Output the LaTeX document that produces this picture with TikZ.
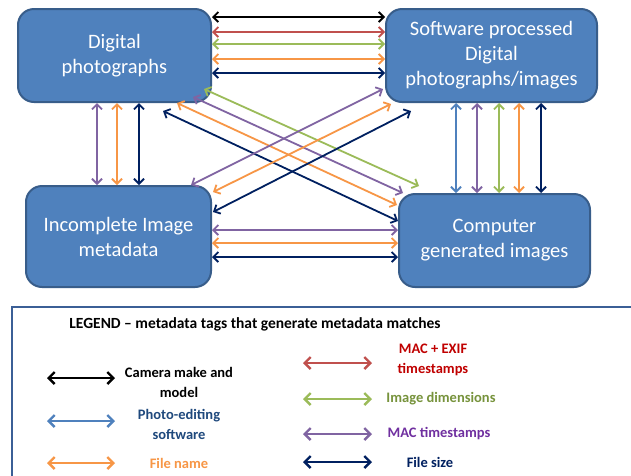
\documentclass[tikz,border=0pt]{standalone}
\usepackage{fontspec}
\setmainfont{Carlito}
\usetikzlibrary{arrows.meta,calc}
\definecolor{boxfill}{HTML}{4F81BD}
\definecolor{boxedge}{HTML}{385D8A}
\definecolor{cred}{HTML}{C0504D}
\definecolor{cgreen}{HTML}{9BBB59}
\definecolor{corange}{HTML}{F79646}
\definecolor{cnavy}{HTML}{002060}
\definecolor{cpurple}{HTML}{8064A2}
\definecolor{cblue}{HTML}{4F81BD}
\definecolor{legedge}{HTML}{3B5F96}
\definecolor{tred}{HTML}{C00000}
\definecolor{tgreen}{HTML}{77933C}
\definecolor{tpurple}{HTML}{7030A0}
\definecolor{tblue}{HTML}{1F497D}
\begin{document}
\begin{tikzpicture}[x=1pt,y=-1pt,
  box/.style={draw=boxedge, line width=2pt, fill=boxfill, rounded corners=16pt,
    text=white, align=center, font=\fontsize{20.5}{25}\selectfont, inner sep=0pt},
  arr/.style={{Straight Barb[length=5pt,width=10pt]}-{Straight Barb[length=5pt,width=10pt]}, line width=1.8pt},
  larr/.style={{Straight Barb[length=6pt,width=12pt]}-{Straight Barb[length=6pt,width=12pt]}, line width=2.4pt},
  legtxt/.style={font=\fontsize{14.5}{20}\selectfont\bfseries, align=center, inner sep=0pt}]
\useasboundingbox (0,0) rectangle (631,475);
\fill[white] (0,0) rectangle (631,475);

% boxes
\node[box, minimum width=193pt, minimum height=93pt] (dp) at (114.5,55.5) {Digital\\photographs};
\node[box, minimum width=211pt, minimum height=93pt] (sp) at (491.5,55.5) {Software processed\\Digital\\photographs/images};
\node[box, minimum width=185pt, minimum height=101pt] (im) at (118.5,236.5) {Incomplete Image\\metadata};
\node[box, minimum width=191pt, minimum height=93pt] (cg) at (494.5,240.5) {Computer\\generated images};

% DP - SP horizontal
\draw[arr,black]   (dp.east |- 0,17) -- (sp.west |- 0,17);
\draw[arr,cred]    (dp.east |- 0,32) -- (sp.west |- 0,32);
\draw[arr,cgreen]  (dp.east |- 0,44) -- (sp.west |- 0,44);
\draw[arr,corange] (dp.east |- 0,59) -- (sp.west |- 0,59);
\draw[arr,cnavy]   (dp.east |- 0,73) -- (sp.west |- 0,73);

% DP - IM vertical
\draw[arr,cpurple] (dp.south -| 97,0)  -- (im.north -| 97,0);
\draw[arr,corange] (dp.south -| 117,0) -- (im.north -| 117,0);
\draw[arr,cnavy]   (dp.south -| 139,0) -- (im.north -| 139,0);

% SP - CG vertical
\draw[arr,cblue]   (sp.south -| 456,0) -- (cg.north -| 456,0);
\draw[arr,cpurple] (sp.south -| 477,0) -- (cg.north -| 477,0);
\draw[arr,cgreen]  (sp.south -| 499,0) -- (cg.north -| 499,0);
\draw[arr,corange] (sp.south -| 519,0) -- (cg.north -| 519,0);
\draw[arr,cnavy]   (sp.south -| 541,0) -- (cg.north -| 541,0);

% IM - CG horizontal
\draw[arr,cpurple] (im.east |- 0,230) -- (cg.west |- 0,230);
\draw[arr,corange] (im.east |- 0,243) -- (cg.west |- 0,243);
\draw[arr,cnavy]   (im.east |- 0,257) -- (cg.west |- 0,257);

% DP - CG diagonals
\draw[arr,cgreen]  ($(dp.south east)+(-8,-14)$) -- ($(cg.north west)+(21,-7)$);
\draw[arr,cpurple] ($(dp.south east)+(-19,-6)$) -- ($(cg.north west)+(5,0)$);
\draw[arr,corange] ($(dp.south east)+(-35,0)$)  -- ($(cg.north west)+(-1,12)$);
\draw[arr,cnavy]   ($(dp.south east)+(-49,8)$)  -- ($(cg.north west)+(0,28)$);

% IM - SP diagonals
\draw[arr,cpurple] ($(im.north east)+(-21,0)$) -- ($(sp.south west)+(-2,-14)$);
\draw[arr,corange] ($(im.north east)+(1,7)$)   -- ($(sp.south west)+(6,1)$);
\draw[arr,cnavy]   ($(im.north east)+(1,27)$)  -- ($(sp.south west)+(26,8)$);

% legend
\draw[legedge, line width=2pt, fill=white] (12,307) rectangle (650,490);
\node[font=\fontsize{15.5}{19}\selectfont\bfseries, inner sep=0pt] (title) at (255,324) {LEGEND -- metadata tags that generate metadata matches};

\coordinate (la1) at (47,378);  \coordinate (lb1) at (115,378);
\coordinate (la2) at (47,421);  \coordinate (lb2) at (115,421);
\coordinate (la3) at (47,463);  \coordinate (lb3) at (115,463);
\coordinate (ra1) at (303,363); \coordinate (rb1) at (372,363);
\coordinate (ra2) at (303,399); \coordinate (rb2) at (372,399);
\coordinate (ra3) at (303,434); \coordinate (rb3) at (372,434);
\coordinate (ra4) at (303,462); \coordinate (rb4) at (372,462);

\draw[larr,black]   (la1) -- (lb1);
\draw[larr,cblue]   (la2) -- (lb2);
\draw[larr,corange] (la3) -- (lb3);
\draw[larr,cred]    (ra1) -- (rb1);
\draw[larr,cgreen]  (ra2) -- (rb2);
\draw[larr,cpurple] (ra3) -- (rb3);
\draw[larr,cnavy]   (ra4) -- (rb4);

\node[legtxt, text=black]   (t1) at (179,382) {Camera make and\\model};
\node[legtxt, text=tblue]   (t2) at (179,424) {Photo-editing\\software};
\node[legtxt, text=corange] (t3) at (179,463) {File name};
\node[legtxt, text=tred]    (t4) at (433,360) {MAC + EXIF\\timestamps};
\node[legtxt, text=tgreen]  (t5) at (441,399) {Image dimensions};
\node[legtxt, text=tpurple] (t6) at (439,434) {MAC timestamps};
\node[legtxt, text=cnavy]   (t7) at (430,462) {File size};
\end{tikzpicture}
\end{document}
